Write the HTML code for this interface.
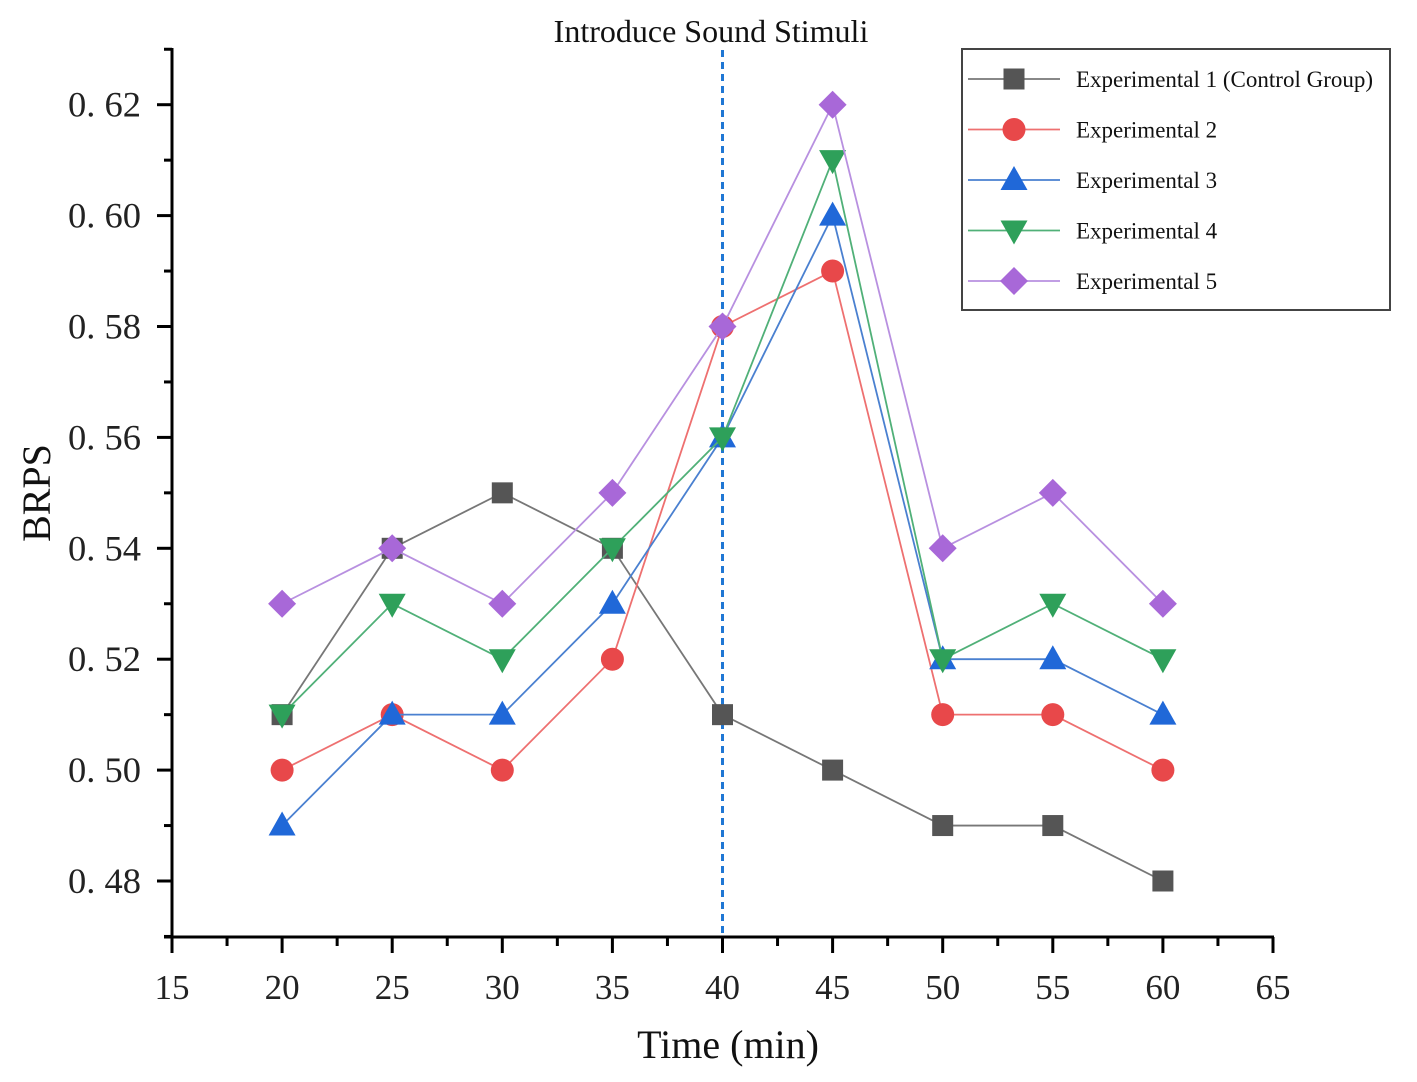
<!DOCTYPE html>
<html><head><meta charset="utf-8"><style>
html,body{margin:0;padding:0;background:#fff;}
svg{display:block;font-family:"Liberation Serif","Noto Serif CJK SC",serif;}
</style></head><body>
<svg id="chart" width="1417" height="1082" viewBox="0 0 1417 1082" xmlns="http://www.w3.org/2000/svg">
<g id="axes"></g>
<g id="series"></g>
<g id="legend"></g>
</svg>
<script>
const times = [20,25,30,35,40,45,50,55,60];
const exp1 = [0.51,0.54,0.55,0.54,0.51,0.50,0.49,0.49,0.48];
const exp2 = [0.50,0.51,0.50,0.52,0.58,0.59,0.51,0.51,0.50];
const exp3 = [0.49,0.51,0.51,0.53,0.56,0.60,0.52,0.52,0.51];
const exp4 = [0.51,0.53,0.52,0.54,0.56,0.61,0.52,0.53,0.52];
const exp5 = [0.53,0.54,0.53,0.55,0.58,0.62,0.54,0.55,0.53];
const seriesNames = ["Experimental 1 (Control Group)","Experimental 2","Experimental 3","Experimental 4","Experimental 5"];
const xTicks = [15,20,25,30,35,40,45,50,55,60,65];
const yTicks = [0.48,0.50,0.52,0.54,0.56,0.58,0.60,0.62];
const yTickLabels = ["0. 48","0. 50","0. 52","0. 54","0. 56","0. 58","0. 60","0. 62"];
const stimulusTime = 40;

const NS="http://www.w3.org/2000/svg";
const X0=172, X1=1273, Y0=937, YT=48;
function sx(v){return X0+(v-15)/(65-15)*(X1-X0);}
function sy(v){return 881+(0.48-v)/0.02*110.9;}
function mk(tag,attrs,parent){const e=document.createElementNS(NS,tag);for(const k in attrs)e.setAttribute(k,attrs[k]);parent.appendChild(e);return e;}

const axes=document.getElementById('axes');
let a=mk('line',{x1:X0,y1:YT,x2:X0,y2:Y0,stroke:'#000','stroke-width':3},axes);


a=mk('line',{x1:X0-8,y1:Y0,x2:X1+1,y2:Y0,stroke:'#000','stroke-width':3},axes);


for(let v=15;v<=65;v+=2.5){
  const major=(v%5===0);
  const t=mk('line',{x1:sx(v),y1:Y0,x2:sx(v),y2:Y0+(major?16:9),stroke:'#000','stroke-width':3},axes);
  
  
}
xTicks.forEach(v=>{
  const t=mk('text',{x:sx(v),y:999,'text-anchor':'middle','font-size':35,fill:'#222'},axes);
  t.textContent=v;
  
  
});
for(let i=0;i<=16;i++){
  const v=0.47+i*0.01;
  if(v>0.631)break;
  const major=(i%2===1);
  const t=mk('line',{x1:X0,y1:sy(v),x2:X0-(major?15:8),y2:sy(v),stroke:'#000','stroke-width':3},axes);
  
  
}
yTicks.forEach((v,i)=>{
  const t=mk('text',{x:141,y:sy(v)+12,'text-anchor':'end','font-size':36,fill:'#222',textLength:73,lengthAdjust:'spacingAndGlyphs'},axes);
  t.textContent=yTickLabels[i];
  
  
});
let tt=mk('text',{x:728,y:1058,'text-anchor':'middle','font-size':40,fill:'#111'},axes);
tt.textContent='Time (min)';


tt=mk('text',{x:0,y:0,'text-anchor':'middle','font-size':40,fill:'#111',transform:'translate(50,493) rotate(-90)'},axes);
tt.textContent='BRPS';


tt=mk('text',{x:711,y:42,'text-anchor':'middle','font-size':32,fill:'#111'},axes);
tt.textContent='Introduce Sound Stimuli';


tt=mk('line',{x1:sx(stimulusTime),y1:50,x2:sx(stimulusTime),y2:Y0,stroke:'#1f77d4','stroke-width':3,'stroke-dasharray':'7,5'},axes);



const colors=['#555','#e8484a','#2068d8','#2ea05a','#a868d8'];
const lineColors=['#777','#ee7070','#4a80d0','#50b078','#b890e0'];
const shapes=['square','circle','up','down','diamond'];
function marker(shape,x,y,color,parent){
  let e;
  if(shape==='square')e=mk('rect',{x:x-10.5,y:y-10.5,width:21,height:21,fill:color},parent);
  else if(shape==='circle')e=mk('circle',{cx:x,cy:y,r:11.5,fill:color},parent);
  else if(shape==='up')e=mk('polygon',{points:`${x},${y-14} ${x+13.5},${y+10} ${x-13.5},${y+10}`,fill:color},parent);
  else if(shape==='down')e=mk('polygon',{points:`${x},${y+14} ${x+13.5},${y-10} ${x-13.5},${y-10}`,fill:color},parent);
  else e=mk('polygon',{points:`${x},${y-14} ${x+14},${y} ${x},${y+14} ${x-14},${y}`,fill:color},parent);
  return e;
}
const all=[exp1,exp2,exp3,exp4,exp5];
const sg=document.getElementById('series');
all.forEach((data,si)=>{
  const g=mk('g',{},sg);
  
  
  const pts=data.map((v,i)=>sx(times[i])+','+sy(v)).join(' ');
  const pl=mk('polyline',{points:pts,fill:'none',stroke:lineColors[si],'stroke-width':1.8},g);
  
  
  data.forEach((v,i)=>{
    const m=marker(shapes[si],sx(times[i]),sy(v),colors[si],g);
    
    
  });
});
const lg=document.getElementById('legend');
let box=mk('rect',{x:962,y:49,width:428,height:261,fill:'#fff',stroke:'#444','stroke-width':2},lg);


seriesNames.forEach((n,i)=>{
  const y=79+i*50.5;
  const g=mk('g',{},lg);
  
  
  mk('line',{x1:968,y1:y,x2:1060,y2:y,stroke:lineColors[i],'stroke-width':1.8},g);
  marker(shapes[i],1014,y,colors[i],g);
  const t=mk('text',{x:1076,y:y+8,'font-size':23,fill:'#111'},g);
  t.textContent=n;
});
</script>
</body></html>
